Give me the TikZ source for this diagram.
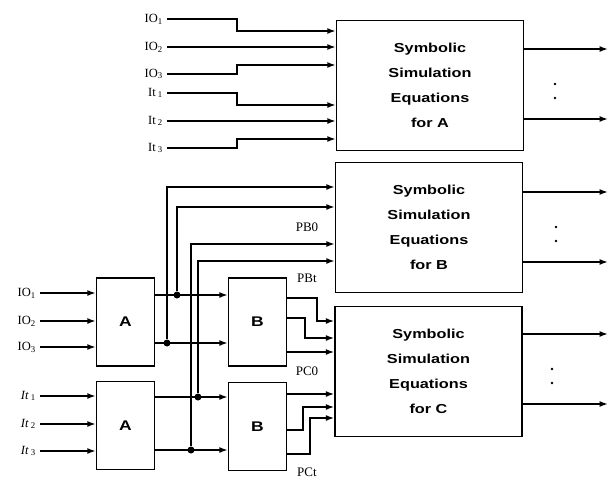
\documentclass[tikz,border=0pt]{standalone}
\usepackage{fontspec}
\setmainfont{Liberation Serif}
\newfontfamily\boxfont[FakeStretch=1.25]{Liberation Sans}
\usetikzlibrary{arrows.meta,positioning}

\begin{document}
\begin{tikzpicture}[x=1pt, y=-1pt,
  symbox/.style={draw, line width=1.4pt, minimum width=187pt, minimum height=130pt,
    align=center, font=\boxfont\bfseries\fontsize{13}{25}\selectfont},
  blk/.style={draw, line width=1.4pt, minimum width=58pt, minimum height=88pt,
    font=\boxfont\bfseries\fontsize{14}{16}\selectfont},
  arrow/.style={-{Latex[length=8.5pt,width=6pt]}, line width=1.5pt},
  lbl/.style={font=\fontsize{12.5}{14}\selectfont, inner xsep=4pt, inner ysep=1pt, anchor=east},
  sig/.style={font=\fontsize{13}{15}\selectfont, inner sep=1pt},
  junc/.style={circle, fill, inner sep=0pt, minimum size=7pt},
]
\useasboundingbox (0,0) rectangle (610,479);

\node[symbox] (symA) at (430,85.5) {Symbolic\\Simulation\\Equations\\for A};
\node[symbox] (symB) at (429,227.5) {Symbolic\\Simulation\\Equations\\for B};
\node[symbox] (symC) at (428.5,371.5) {Symbolic\\Simulation\\Equations\\for C};

\node[blk] (blkA1) at (125.5,322) {A};
\node[blk] (blkA2) at (125.5,425.5) {A};
\node[blk] (blkB1) at (257.5,322) {B};
\node[blk] (blkB2) at (257.5,426.5) {B};

\node[lbl] (ta1) at (167,19) {IO\textsubscript{1}};
\node[lbl] (ta2) at (167,47) {IO\textsubscript{2}};
\node[lbl] (ta3) at (167,74) {IO\textsubscript{3}};
\node[lbl] (ta4) at (167,93) {It\,\textsubscript{1}};
\node[lbl] (ta5) at (167,121) {It\,\textsubscript{2}};
\node[lbl] (ta6) at (167,148) {It\,\textsubscript{3}};

\draw[arrow] (ta1.east) -| (237,31) -- (symA.west |- 0,31);
\draw[arrow] (ta2.east) -- (ta2.east -| symA.west);
\draw[arrow] (ta3.east) -| (237,65) -- (symA.west |- 0,65);
\draw[arrow] (ta4.east) -| (237,105) -- (symA.west |- 0,105);
\draw[arrow] (ta5.east) -- (ta5.east -| symA.west);
\draw[arrow] (ta6.east) -| (237,139) -- (symA.west |- 0,139);

\node[lbl] (ba1) at (40,293) {IO\textsubscript{1}};
\node[lbl] (ba2) at (40,321) {IO\textsubscript{2}};
\node[lbl] (ba3) at (40,347) {IO\textsubscript{3}};
\node[lbl] (ba4) at (40,396) {\textit{It}\,\textsubscript{1}};
\node[lbl] (ba5) at (40,424) {\textit{It}\,\textsubscript{2}};
\node[lbl] (ba6) at (40,451) {\textit{It}\,\textsubscript{3}};

\draw[arrow] (ba1.east) -- (ba1.east -| blkA1.west);
\draw[arrow] (ba2.east) -- (ba2.east -| blkA1.west);
\draw[arrow] (ba3.east) -- (ba3.east -| blkA1.west);
\draw[arrow] (ba4.east) -- (ba4.east -| blkA2.west);
\draw[arrow] (ba5.east) -- (ba5.east -| blkA2.west);
\draw[arrow] (ba6.east) -- (ba6.east -| blkA2.west);

\node[junc] (j1) at (177,295) {};
\node[junc] (j2) at (167,343) {};
\node[junc] (j3) at (198,397) {};
\node[junc] (j4) at (191,450) {};

\draw[arrow] (blkA1.east |- j1) -- (blkB1.west |- j1);
\draw[arrow] (blkA1.east |- j2) -- (blkB1.west |- j2);
\draw[arrow] (blkA2.east |- j3) -- (blkB2.west |- j3);
\draw[arrow] (blkA2.east |- j4) -- (blkB2.west |- j4);

\draw[arrow] (j2) |- (symB.west |- 0,187);
\draw[arrow] (j1) |- (symB.west |- 0,207);
\draw[arrow] (j4) |- (symB.west |- 0,244);
\draw[arrow] (j3) |- (symB.west |- 0,261);

\draw[arrow] (blkB1.east |- 0,298) -| (317,321) -- (symC.west |- 0,321);
\draw[arrow] (blkB1.east |- 0,318) -| (305,338) -- (symC.west |- 0,338);
\draw[arrow] (blkB1.east |- 0,352) -- (symC.west |- 0,352);
\draw[arrow] (blkB2.east |- 0,394) -- (symC.west |- 0,394);
\draw[arrow] (blkB2.east |- 0,430) -| (303,407) -- (symC.west |- 0,407);
\draw[arrow] (blkB2.east |- 0,454) -| (310,418) -- (symC.west |- 0,418);

\node[sig] (pb0) at (307,227) {PB0};
\node[sig] (pbt) at (307,278) {PBt};
\node[sig] (pc0) at (307,371) {PC0};
\node[sig] (pct) at (307,472) {PCt};

\coordinate (oA1) at (608,49);
\coordinate (oA2) at (608,119);
\coordinate (oB1) at (608,192);
\coordinate (oB2) at (608,262);
\coordinate (oC1) at (608,334);
\coordinate (oC2) at (608,404);

\draw[arrow] (symA.east |- oA1) -- (oA1);
\draw[arrow] (symA.east |- oA2) -- (oA2);
\draw[arrow] (symB.east |- oB1) -- (oB1);
\draw[arrow] (symB.east |- oB2) -- (oB2);
\draw[arrow] (symC.east |- oC1) -- (oC1);
\draw[arrow] (symC.east |- oC2) -- (oC2);

\fill (555,84) circle (1.3pt) (555,98) circle (1.3pt);
\fill (556,227) circle (1.3pt) (556,241) circle (1.3pt);
\fill (552,369) circle (1.3pt) (552,383) circle (1.3pt);

\end{tikzpicture}
\end{document}
